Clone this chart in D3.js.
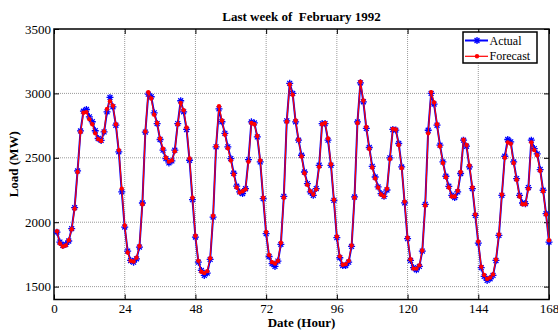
<!DOCTYPE html>
<html>
<head>
<meta charset="utf-8">
<script src="https://cdn.jsdelivr.net/npm/d3@7"></script>
<style>
  body { margin: 0; background: #fff; }
  svg { display: block; font-family: "Liberation Serif", "Times New Roman", serif; }
</style>
</head>
<body>
<div id="chart"></div>
<script>
const chartWidth = 558;
const chartHeight = 331;

// hourly load, last week of February 1992
const hours = d3.range(1, 169);

const actualLoad = [
  1923, 1846, 1820, 1828, 1854, 1950, 2113, 2398, 2709, 2862, 2875, 2818, 2780, 2710, 2650, 2635, 2701, 2857, 2969, 2896, 2753, 2546, 2235, 1962,
  1776, 1703, 1690, 1716, 1807, 2149, 2700, 2994, 2974, 2849, 2766, 2642, 2559, 2494, 2460, 2476, 2559, 2766, 2943, 2857, 2720, 2481, 2175, 1885,
  1690, 1626, 1587, 1605, 1711, 2040, 2585, 2880, 2780, 2690, 2585, 2494, 2380, 2280, 2235, 2222, 2260, 2486, 2779, 2771, 2662, 2468, 2183, 1911,
  1734, 1678, 1657, 1698, 1828, 2201, 2787, 3078, 3000, 2779, 2637, 2520, 2390, 2300, 2235, 2209, 2261, 2442, 2766, 2766, 2637, 2442, 2170, 1880,
  1724, 1664, 1664, 1690, 1812, 2196, 2779, 3082, 2935, 2728, 2580, 2434, 2351, 2274, 2222, 2201, 2250, 2500, 2720, 2715, 2611, 2429, 2150, 1872,
  1703, 1647, 1631, 1657, 1776, 2139, 2714, 3000, 2917, 2753, 2598, 2468, 2357, 2279, 2209, 2191, 2235, 2378, 2637, 2590, 2429, 2261, 2053, 1838,
  1647, 1579, 1548, 1561, 1587, 1703, 1898, 2209, 2512, 2642, 2624, 2468, 2339, 2209, 2149, 2144, 2269, 2637, 2572, 2530, 2409, 2248, 2066, 1846
];

const forecastLoad = [
  1930, 1835, 1812, 1820, 1860, 1945, 2105, 2390, 2700, 2850, 2855, 2800, 2760, 2690, 2645, 2630, 2705, 2880, 2940, 2905, 2760, 2560, 2261, 1975,
  1765, 1700, 1695, 1725, 1815, 2140, 2705, 3010, 2960, 2835, 2770, 2650, 2570, 2500, 2470, 2480, 2550, 2760, 2925, 2870, 2735, 2495, 2190, 1895,
  1700, 1615, 1605, 1620, 1720, 2050, 2590, 2900, 2790, 2680, 2575, 2480, 2370, 2270, 2230, 2240, 2255, 2470, 2770, 2760, 2670, 2480, 2190, 1925,
  1745, 1690, 1680, 1700, 1840, 2190, 2780, 3070, 2990, 2790, 2640, 2510, 2380, 2290, 2240, 2215, 2255, 2430, 2760, 2770, 2650, 2450, 2175, 1890,
  1735, 1670, 1675, 1700, 1820, 2190, 2770, 3090, 2945, 2740, 2570, 2425, 2340, 2270, 2215, 2200, 2260, 2490, 2725, 2720, 2600, 2420, 2160, 1880,
  1712, 1640, 1640, 1665, 1780, 2130, 2690, 3010, 2930, 2760, 2590, 2460, 2350, 2270, 2200, 2200, 2245, 2390, 2640, 2600, 2440, 2270, 2060, 1850,
  1655, 1590, 1560, 1570, 1595, 1710, 1905, 2215, 2500, 2620, 2610, 2460, 2330, 2200, 2140, 2140, 2260, 2620, 2560, 2520, 2400, 2240, 2060, 1860
];

const xTicks = [0, 24, 48, 72, 96, 120, 144, 168];
const yTicks = [1500, 2000, 2500, 3000, 3500];

const plotLeft = 54, plotRight = 549, plotTop = 29, plotBottom = 299.5;

const x = d3.scaleLinear().domain([0, 168]).range([plotLeft, plotRight]);
const y = d3.scaleLinear().domain([1400, 3500]).range([plotBottom, plotTop]);

const svg = d3.select("#chart")
  .append("svg")
  .attr("width", chartWidth)
  .attr("height", chartHeight);

svg.append("rect")
  .attr("width", chartWidth)
  .attr("height", chartHeight)
  .attr("fill", "#fff");

// dotted grid
const grid = svg.append("g")
  .attr("stroke", "#9a9a9a")
  .attr("stroke-width", 1)
  .attr("stroke-dasharray", "1,1");

grid.selectAll("line.vgrid")
  .data(xTicks.slice(1, -1))
  .enter()
  .append("line")
  .attr("class", "vgrid")
  .attr("x1", d => x(d)).attr("x2", d => x(d))
  .attr("y1", plotTop).attr("y2", plotBottom);

grid.selectAll("line.hgrid")
  .data(yTicks.slice(0, -1))
  .enter()
  .append("line")
  .attr("class", "hgrid")
  .attr("x1", plotLeft).attr("x2", plotRight)
  .attr("y1", d => y(d)).attr("y2", d => y(d));

// axes, MATLAB style: ticks pointing inward on all four sides
const tickLen = 5;

svg.append("g")
  .attr("transform", `translate(0,${plotBottom})`)
  .call(d3.axisBottom(x).tickValues(xTicks).tickFormat(d3.format("d"))
    .tickSizeInner(-tickLen).tickSizeOuter(0).tickPadding(4));

svg.append("g")
  .attr("transform", `translate(${plotLeft},0)`)
  .call(d3.axisLeft(y).tickValues(yTicks).tickFormat(d3.format("d"))
    .tickSizeInner(-tickLen).tickSizeOuter(0).tickPadding(3));

svg.append("g")
  .attr("transform", `translate(0,${plotTop})`)
  .call(d3.axisTop(x).tickValues(xTicks).tickSizeInner(-tickLen).tickSizeOuter(0).tickFormat(""));

svg.append("g")
  .attr("transform", `translate(${plotRight},0)`)
  .call(d3.axisRight(y).tickValues(yTicks).tickSizeInner(-tickLen).tickSizeOuter(0).tickFormat(""));

svg.selectAll(".domain").remove();
svg.selectAll(".tick line").attr("stroke", "#000").attr("stroke-width", 1);
svg.selectAll(".tick text")
  .attr("fill", "#000")
  .style("font-family", "'Liberation Serif', 'Times New Roman', serif")
  .style("font-size", "13px");

// box around the plot
svg.append("rect")
  .attr("x", plotLeft)
  .attr("y", plotTop)
  .attr("width", plotRight - plotLeft)
  .attr("height", plotBottom - plotTop)
  .attr("fill", "none")
  .attr("stroke", "#000")
  .attr("stroke-width", 1.5);

// asterisk marker like matlab '*'
function starPath(s) {
  const d = s * 0.7;
  return `M${-s},0L${s},0M0,${-s}L0,${s}M${-d},${-d}L${d},${d}M${-d},${d}L${d},${-d}`;
}

const line = (values) => d3.line()
  .x((d, i) => x(hours[i]))
  .y(d => y(d))(values);

const plot = svg.append("g");

// Actual: blue line with stars
plot.append("path")
  .attr("d", line(actualLoad))
  .attr("fill", "none")
  .attr("stroke", "#0000ff")
  .attr("stroke-width", 2);

plot.selectAll("path.actual-marker")
  .data(actualLoad)
  .enter()
  .append("path")
  .attr("class", "actual-marker")
  .attr("transform", (d, i) => `translate(${x(hours[i])},${y(d)})`)
  .attr("d", starPath(3.5))
  .attr("stroke", "#0000ff")
  .attr("stroke-width", 1.3);

// Forecast: red line with dots, drawn on top
plot.append("path")
  .attr("d", line(forecastLoad))
  .attr("fill", "none")
  .attr("stroke", "#ff0000")
  .attr("stroke-width", 1.2);

plot.selectAll("circle.forecast-marker")
  .data(forecastLoad)
  .enter()
  .append("circle")
  .attr("class", "forecast-marker")
  .attr("cx", (d, i) => x(hours[i]))
  .attr("cy", d => y(d))
  .attr("r", 2.2)
  .attr("fill", "#ff0000");

// title and axis labels
svg.append("text")
  .attr("x", (plotLeft + plotRight) / 2)
  .attr("y", 21)
  .attr("text-anchor", "middle")
  .attr("font-weight", "bold")
  .attr("font-size", "13px")
  .attr("xml:space", "preserve")
  .style("white-space", "pre")
  .text("Last week of  February 1992");

svg.append("text")
  .attr("x", (plotLeft + plotRight) / 2)
  .attr("y", 326.5)
  .attr("text-anchor", "middle")
  .attr("font-weight", "bold")
  .attr("font-size", "13px")
  .text("Date (Hour)");

svg.append("text")
  .attr("transform", `translate(18,${(plotTop + plotBottom) / 2}) rotate(-90)`)
  .attr("text-anchor", "middle")
  .attr("font-weight", "bold")
  .attr("font-size", "13px")
  .text("Load (MW)");

// legend
const legendItems = [
  { name: "Actual", color: "#0000ff", marker: "star" },
  { name: "Forecast", color: "#ff0000", marker: "dot" }
];

const legend = svg.append("g").attr("transform", "translate(463,32)");

legend.append("rect")
  .attr("width", 74)
  .attr("height", 31)
  .attr("fill", "#fff")
  .attr("stroke", "#000")
  .attr("stroke-width", 1.5);

legendItems.forEach((item, i) => {
  const ly = 8.5 + i * 15.8;
  const row = legend.append("g").attr("transform", `translate(0,${ly})`);
  row.append("line")
    .attr("x1", 2).attr("x2", 25)
    .attr("stroke", item.color)
    .attr("stroke-width", item.marker === "star" ? 2 : 1.2);
  if (item.marker === "star") {
    row.append("path")
      .attr("transform", "translate(14,0)")
      .attr("d", starPath(3.5))
      .attr("stroke", item.color)
      .attr("stroke-width", 1.3);
  } else {
    row.append("circle")
      .attr("cx", 14)
      .attr("r", 2.2)
      .attr("fill", item.color);
  }
  row.append("text")
    .attr("x", 26.5)
    .attr("y", 4)
    .attr("font-size", "12px")
    .text(item.name);
});
</script>
</body>
</html>
